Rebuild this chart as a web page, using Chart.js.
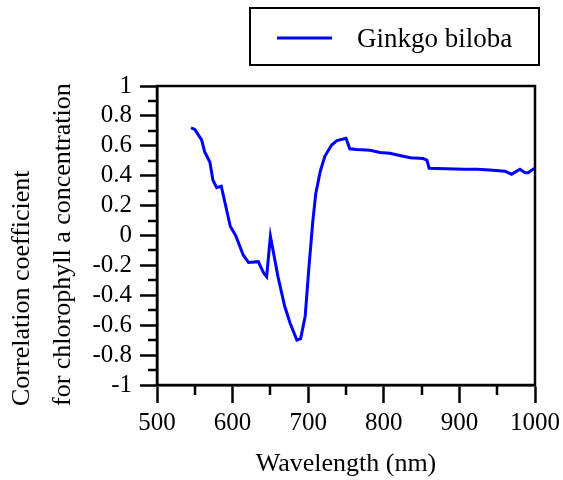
<!DOCTYPE html>
<html>
<head>
<meta charset="utf-8">
<script src="https://cdn.jsdelivr.net/npm/chart.js@4"></script>
<style>
  body { margin: 0; background: #fff; }
</style>
</head>
<body>
<canvas id="myChart" width="563" height="480"></canvas>
<script>
// wavelength (nm) and correlation coefficient
const seriesName = 'Ginkgo biloba';
const wavelength = [545, 550, 559, 563, 570, 574, 579, 585, 597, 604, 614, 621, 634, 641, 645, 650, 660, 669, 676, 685, 690, 696, 701, 706, 710, 716, 722, 731, 738, 750, 755, 764, 782, 795, 808, 821, 835, 852, 857, 860, 883, 905, 923, 940, 960, 969, 980, 987, 991, 998, 1000];
const correlation = [0.72, 0.71, 0.64, 0.56, 0.49, 0.37, 0.32, 0.33, 0.06, 0.0, -0.13, -0.18, -0.175, -0.25, -0.275, -0.005, -0.275, -0.475, -0.585, -0.70, -0.69, -0.54, -0.21, 0.09, 0.28, 0.43, 0.53, 0.605, 0.635, 0.65, 0.58, 0.575, 0.57, 0.555, 0.55, 0.535, 0.52, 0.515, 0.505, 0.45, 0.447, 0.443, 0.443, 0.438, 0.43, 0.41, 0.443, 0.42, 0.42, 0.445, 0.44];

const xTicks = [500, 600, 700, 800, 900, 1000];
const yTicks = [-1, -0.8, -0.6, -0.4, -0.2, 0, 0.2, 0.4, 0.6, 0.8, 1];
const xMinor = [550, 650, 750, 850, 950];
const yMinor = [-0.9, -0.7, -0.5, -0.3, -0.1, 0.1, 0.3, 0.5, 0.7, 0.9];
const yTitle = ['Correlation coefficient', 'for chlorophyll a concentration'];

const serif = '"Liberation Serif", "Times New Roman", serif';

// frame, minor ticks, y title and boxed legend
const decorations = {
    id: 'decorations',
    afterDraw(chart) {
        const ctx = chart.ctx;
        const area = chart.chartArea;
        const xs = chart.scales.x;
        const ys = chart.scales.y;
        ctx.save();
        ctx.strokeStyle = '#000';
        ctx.lineWidth = 2.5;
        ctx.strokeRect(area.left, area.top, area.right - area.left, area.bottom - area.top);

        ctx.beginPath();
        yMinor.forEach(v => {
            const py = Math.round(ys.getPixelForValue(v));
            ctx.moveTo(area.left - 9, py);
            ctx.lineTo(area.left, py);
        });
        xMinor.forEach(v => {
            const px = Math.round(xs.getPixelForValue(v));
            ctx.moveTo(px, area.bottom);
            ctx.lineTo(px, area.bottom + 10);
        });
        ctx.stroke();

        // y axis title, two lines bottom aligned
        ctx.fillStyle = '#000';
        ctx.font = '26px ' + serif;
        ctx.textAlign = 'left';
        ctx.textBaseline = 'middle';
        [22, 63].forEach((cx, i) => {
            ctx.save();
            ctx.translate(cx, 406);
            ctx.rotate(-Math.PI / 2);
            ctx.fillText(yTitle[i], 0, 0);
            ctx.restore();
        });

        // legend
        const ds = chart.data.datasets[0];
        ctx.lineWidth = 2;
        ctx.strokeRect(250, 8, 289, 57);
        ctx.strokeStyle = ds.borderColor;
        ctx.lineWidth = 3;
        ctx.beginPath();
        ctx.moveTo(277, 38);
        ctx.lineTo(332, 38);
        ctx.stroke();
        ctx.font = '27px ' + serif;
        ctx.fillText(ds.label, 357, 40);
        ctx.restore();
    }
};

const ctx = document.getElementById('myChart').getContext('2d');
const myChart = new Chart(ctx, {
    type: 'line',
    data: {
        datasets: [{
            label: seriesName,
            data: wavelength.map((w, i) => ({ x: w, y: correlation[i] })),
            borderColor: '#0000ff',
            borderWidth: 3,
            pointRadius: 0,
            tension: 0,
            fill: false
        }]
    },
    options: {
        responsive: false,
        animation: false,
        layout: { padding: { top: 86, right: 28, left: 0, bottom: 0 } },
        plugins: {
            legend: { display: false },
            tooltip: { enabled: false }
        },
        scales: {
            x: {
                type: 'linear',
                min: 500,
                max: 1000,
                afterFit: scale => {
                    scale.height = 95;
                    scale.paddingLeft = 0;
                    scale.paddingRight = 0;
                },
                afterBuildTicks: scale => { scale.ticks = xTicks.map(v => ({ value: v })); },
                ticks: {
                    color: '#000',
                    font: { family: serif, size: 25 },
                    padding: 5,
                    maxRotation: 0,
                    autoSkip: false,
                    callback: v => String(v)
                },
                grid: { drawOnChartArea: false, tickLength: 18, tickWidth: 2.5, tickColor: '#000' },
                border: { display: true, color: '#000', width: 2.5 },
                title: {
                    display: true,
                    text: 'Wavelength (nm)',
                    color: '#000',
                    font: { family: serif, size: 26 },
                    padding: { top: 0, bottom: 0 }
                }
            },
            y: {
                type: 'linear',
                min: -1,
                max: 1,
                afterFit: scale => {
                    scale.width = 157;
                    scale.paddingTop = 0;
                    scale.paddingBottom = 0;
                },
                afterBuildTicks: scale => { scale.ticks = yTicks.map(v => ({ value: v })); },
                ticks: {
                    color: '#000',
                    font: { family: serif, size: 25 },
                    padding: 8,
                    autoSkip: false,
                    callback: v => String(v)
                },
                grid: { drawOnChartArea: false, tickLength: 17, tickWidth: 2.5, tickColor: '#000' },
                border: { display: true, color: '#000', width: 2.5 }
            }
        }
    },
    plugins: [decorations]
});
</script>
</body>
</html>
